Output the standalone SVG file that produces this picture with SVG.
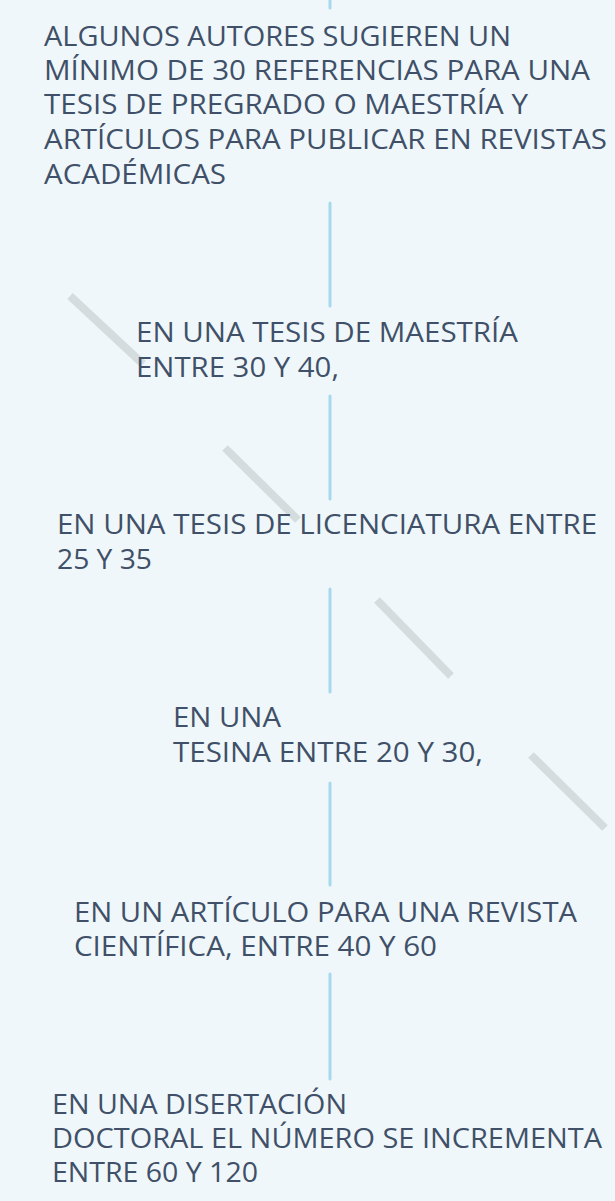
<svg xmlns="http://www.w3.org/2000/svg" width="615" height="1201" viewBox="0 0 615 1201">
<style>
.t{font-family:"Open Sans","Liberation Sans",sans-serif;font-size:27px;font-weight:500;fill:#3f5068;}
.c{stroke:#a6d9ec;stroke-width:3;stroke-linecap:round;fill:none;}
.g{stroke:#d5dcdd;stroke-width:8;stroke-linecap:butt;fill:none;}
</style>
<rect width="615" height="1201" fill="#eff7fa"/>
<g id="decor">
<line class="g" x1="70" y1="296" x2="143" y2="364"/>
<line class="g" x1="225" y1="448" x2="298" y2="520"/>
<line class="g" x1="377" y1="600" x2="451" y2="676"/>
<line class="g" x1="531" y1="755" x2="605" y2="828"/>
</g>
<g id="connectors">
<line class="c" x1="330" y1="-2" x2="330" y2="8"/>
<line class="c" x1="330" y1="203" x2="330" y2="306"/>
<line class="c" x1="330" y1="396" x2="330" y2="499"/>
<line class="c" x1="330" y1="589" x2="330" y2="692"/>
<line class="c" x1="330" y1="783" x2="330" y2="885"/>
<line class="c" x1="330" y1="974" x2="330" y2="1079"/>
</g>
<g id="node0">
<text class="t" x="44" y="46" textLength="467" lengthAdjust="spacingAndGlyphs">ALGUNOS AUTORES SUGIEREN UN</text>
<text class="t" x="44" y="80" textLength="546" lengthAdjust="spacingAndGlyphs">MÍNIMO DE 30 REFERENCIAS PARA UNA</text>
<text class="t" x="44" y="114" textLength="484" lengthAdjust="spacingAndGlyphs">TESIS DE PREGRADO O MAESTRÍA Y</text>
<text class="t" x="44" y="149" textLength="563" lengthAdjust="spacingAndGlyphs">ARTÍCULOS PARA PUBLICAR EN REVISTAS</text>
<text class="t" x="44" y="184" textLength="182" lengthAdjust="spacingAndGlyphs">ACADÉMICAS</text>
</g>
<g id="node1">
<text class="t" x="136" y="342" textLength="382" lengthAdjust="spacingAndGlyphs">EN UNA TESIS DE MAESTRÍA</text>
<text class="t" x="136" y="377" textLength="203" lengthAdjust="spacingAndGlyphs">ENTRE 30 Y 40,</text>
</g>
<g id="node2">
<text class="t" x="57" y="534" textLength="540" lengthAdjust="spacingAndGlyphs">EN UNA TESIS DE LICENCIATURA ENTRE</text>
<text class="t" x="57" y="569" textLength="95" lengthAdjust="spacingAndGlyphs">25 Y 35</text>
</g>
<g id="node3">
<text class="t" x="173" y="727" textLength="108" lengthAdjust="spacingAndGlyphs">EN UNA</text>
<text class="t" x="173" y="762" textLength="310" lengthAdjust="spacingAndGlyphs">TESINA ENTRE 20 Y 30,</text>
</g>
<g id="node4">
<text class="t" x="74" y="922" textLength="503" lengthAdjust="spacingAndGlyphs">EN UN ARTÍCULO PARA UNA REVISTA</text>
<text class="t" x="74" y="956" textLength="363" lengthAdjust="spacingAndGlyphs">CIENTÍFICA, ENTRE 40 Y 60</text>
</g>
<g id="node5">
<text class="t" x="52" y="1114" textLength="295" lengthAdjust="spacingAndGlyphs">EN UNA DISERTACIÓN</text>
<text class="t" x="52" y="1148" textLength="550" lengthAdjust="spacingAndGlyphs">DOCTORAL EL NÚMERO SE INCREMENTA</text>
<text class="t" x="52" y="1182" textLength="206" lengthAdjust="spacingAndGlyphs">ENTRE 60 Y 120</text>
</g>
</svg>
